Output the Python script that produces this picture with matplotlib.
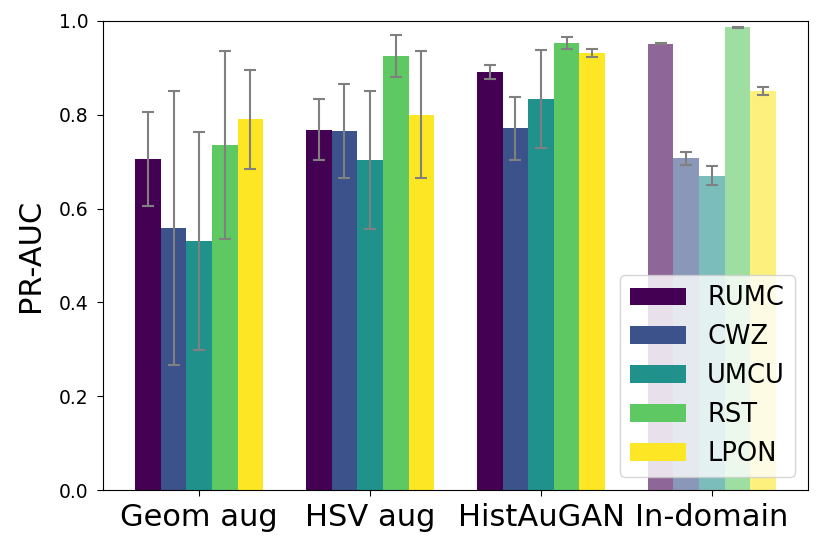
import matplotlib
matplotlib.use("Agg")
import matplotlib.pyplot as plt
import numpy as np

groups = ["Geom aug", "HSV aug", "HistAuGAN", "In-domain"]
centers = ["RUMC", "CWZ", "UMCU", "RST", "LPON"]

# values per center across the 4 groups
RUMC = [0.706, 0.768, 0.891, 0.952]
CWZ = [0.558, 0.766, 0.771, 0.707]
UMCU = [0.531, 0.703, 0.834, 0.670]
RST = [0.736, 0.925, 0.953, 0.987]
LPON = [0.790, 0.800, 0.932, 0.851]

RUMC_err = [0.100, 0.065, 0.015, 0.002]
CWZ_err = [0.292, 0.100, 0.067, 0.014]
UMCU_err = [0.233, 0.147, 0.105, 0.020]
RST_err = [0.200, 0.045, 0.013, 0.001]
LPON_err = [0.105, 0.135, 0.009, 0.008]

values = [RUMC, CWZ, UMCU, RST, LPON]
errors = [RUMC_err, CWZ_err, UMCU_err, RST_err, LPON_err]

colors = [plt.cm.viridis(v) for v in np.linspace(0, 1, 5)]

fig = plt.figure(figsize=(8.3, 5.54), dpi=100)
ax = fig.add_axes([103/830, 1-490/554, (808-103)/830, (490-21)/554])

x = np.arange(len(groups))
w = 0.15
for i, (name, vals, errs) in enumerate(zip(centers, values, errors)):
    pos = x + (i - 2) * w
    # first three groups opaque, in-domain semi-transparent
    ax.bar(pos[:3], vals[:3], w, color=colors[i], label=name)
    ax.bar(pos[3:], vals[3:], w, color=colors[i], alpha=0.6)
    ax.errorbar(pos, vals, yerr=errs, fmt='none', ecolor='gray', capsize=4.5,
                elinewidth=1.5, capthick=1.5)

ax.set_ylim(0, 1.0)
ax.set_xticks(x)
ax.set_xticklabels(groups, fontsize=22)
ax.tick_params(axis='y', labelsize=13.5, length=4.5, pad=6)
ax.tick_params(axis='x', length=4.5, pad=5)
ax.set_ylabel("PR-AUC", fontsize=22, labelpad=10)
ax.legend(loc='lower right', fontsize=18.5, handlelength=2.2)

fig.savefig("out.png", dpi=100)
